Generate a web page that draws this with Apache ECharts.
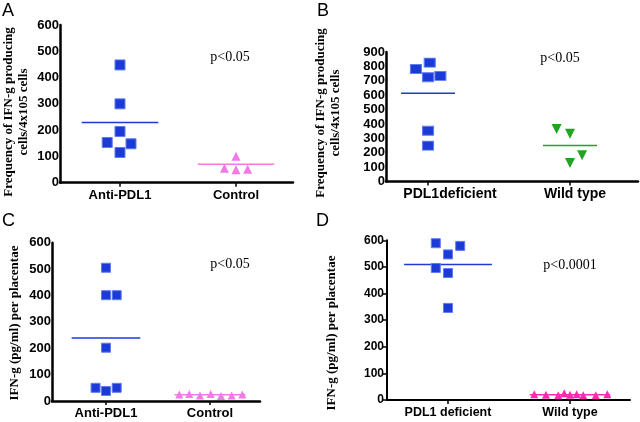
<!DOCTYPE html>
<html><head><meta charset="utf-8">
<script src="https://cdn.jsdelivr.net/npm/echarts@6/dist/echarts.min.js"></script>
<style>html,body{margin:0;padding:0;background:#fff}#c{width:640px;height:422px}</style>
</head><body><div id="c"></div>
<script>
// ---------- DATA ----------
// Panel A
const aCategories = ['Anti-PDL1', 'Control'];
const aGroup1Values = [448, 300, 195, 153, 148, 115];
const aGroup1Jitter = [0, 0, 0, -0.11, 0.095, 0];
const aGroup2Values = [101, 55, 49, 51];
const aGroup2Jitter = [0, -0.1, 0, 0.1];
const aMeans = [229, 70];
const aPText = 'p<0.05';
const aYTitle = 'Frequency of IFN-g producing\ncells/4x105 cells';
// Panel B
const bCategories = ['PDL1deficient', 'Wild type'];
const bGroup1Values = [826, 782, 725, 734, 353, 249];
const bGroup1Jitter = [0.012, -0.085, 0, 0.087, 0, 0];
const bGroup2Values = [365, 332, 182, 129];
const bGroup2Jitter = [-0.094, 0, 0.085, 0];
const bMeans = [614, 251];
const bPText = 'p<0.05';
const bYTitle = 'Frequency of IFN-g producing\ncells/4x105 cells';
// Panel C
const cCategories = ['Anti-PDL1', 'Control'];
const cGroup1Values = [505, 401, 401, 202, 50, 38, 50];
const cGroup1Jitter = [0, 0, 0.103, 0, -0.1, 0, 0.103];
const cGroup2Values = [25, 27, 21, 27, 19, 21, 25];
const cGroup2Jitter = [-0.295, -0.199, -0.096, 0.007, 0.106, 0.209, 0.311];
const cMeans = [239, 24];
const cPText = 'p<0.05';
const cYTitle = 'IFN-g (pg/ml) per placentae';
// Panel D
const dCategories = ['PDL1 deficient', 'Wild type'];
const dGroup1Values = [589, 579, 547, 496, 477, 346];
const dGroup1Jitter = [-0.1, 0.1, 0, -0.1, 0, 0];
const dGroup2Values = [22, 20, 18, 25, 20, 22, 18, 18, 22];
const dGroup2Jitter = [-0.293, -0.197, -0.096, -0.047, 0, 0.055, 0.109, 0.211, 0.306];
const dMeans = [509, 20];
const dPText = 'p<0.0001';
const dYTitle = 'IFN-g (pg/ml) per placentae';

// ---------- LAYOUT / STYLE ----------
const SANS = '"Liberation Sans", Arial, sans-serif';
const SERIF = '"Liberation Serif", "Times New Roman", serif';
const BLUE = '#1c3bd6', BLUE_EDGE = '#5f7cf0';

const panels = [
  { letter: 'A', cats: aCategories, g1: aGroup1Values, j1: aGroup1Jitter, g2: aGroup2Values, j2: aGroup2Jitter, means: aMeans,
    grid: { left: 60, top: 25, width: 233, height: 157.7 }, xMin: 0.483, xMax: 2.491, yMax: 600,
    labelPos: [1, 2], catFont: 13, tickFont: 13, yTicks: false, axisW: 2.5, meanHalf: [0.33, 0.33],
    c2: '#f07ae6', sym2: 'triangle', rot2: 0, size1: 10, size2: 9,
    letterPos: [2, 2], pText: aPText, pPos: [230, 57], yTitle: aYTitle, yTitlePos: [16, 112] },
  { letter: 'B', cats: bCategories, g1: bGroup1Values, j1: bGroup1Jitter, g2: bGroup2Values, j2: bGroup2Jitter, means: bMeans,
    grid: { left: 386, top: 52, width: 252, height: 129.5 }, xMin: 0.704, xMax: 2.479, yMax: 900,
    labelPos: [1.155, 2.035], catFont: 14, tickFont: 13, yTicks: false, axisW: 2.5, meanHalf: [0.19, 0.19],
    c2: '#22a322', sym2: 'triangle', rot2: 180, size1: [11, 9], size2: 10,
    letterPos: [317, 2], pText: bPText, pPos: [560, 58], yTitle: bYTitle, yTitlePos: [328, 113] },
  { letter: 'C', cats: cCategories, g1: cGroup1Values, j1: cGroup1Jitter, g2: cGroup2Values, j2: cGroup2Jitter, means: cMeans,
    grid: { left: 52, top: 242.7, width: 208, height: 158.3 }, xMin: 0.481, xMax: 2.481, yMax: 600,
    labelPos: [1, 2], catFont: 13, tickFont: 13, yTicks: false, axisW: 2.5, meanHalf: [0.33, 0.34],
    c2: '#f07ae6', sym2: 'triangle', rot2: 0, size1: 9, size2: 8,
    letterPos: [2, 212], pText: cPText, pPos: [230, 264], yTitle: cYTitle, yTitlePos: [15, 323] },
  { letter: 'D', cats: dCategories, g1: dGroup1Values, j1: dGroup1Jitter, g2: dGroup2Values, j2: dGroup2Jitter, means: dMeans,
    grid: { left: 387, top: 240.3, width: 243, height: 159.7 }, xMin: 0.5, xMax: 2.492, yMax: 600,
    labelPos: [1, 2], catFont: 12.5, tickFont: 12, yTicks: true, axisW: 2, meanHalf: [0.36, 0.33],
    c2: '#ff2ab2', sym2: 'triangle', rot2: 0, size1: 9, size2: 8,
    letterPos: [316, 212], pText: dPText, pPos: [570, 265], yTitle: dYTitle, yTitlePos: [332, 333] }
];

const grid = [], xAxis = [], yAxis = [], series = [], graphic = [];
panels.forEach((p, i) => {
  grid.push(Object.assign({ containLabel: false }, p.grid));
  xAxis.push({
    type: 'value', gridIndex: i, min: p.xMin, max: p.xMax,
    axisLine: { show: true, onZero: false, lineStyle: { color: '#000', width: p.axisW } },
    axisTick: { show: true, customValues: [1, 2], length: 4, lineStyle: { color: '#000', width: 1.5 } },
    axisLabel: { customValues: p.labelPos, margin: 6, color: '#000', fontFamily: SANS, fontWeight: 'bold', fontSize: p.catFont,
      formatter: v => p.cats[Math.round(v) - 1] },
    splitLine: { show: false }
  });
  yAxis.push({
    type: 'value', gridIndex: i, min: 0, max: p.yMax, interval: 100,
    axisLine: { show: true, lineStyle: { color: '#000', width: p.axisW } },
    axisTick: { show: p.yTicks, length: 4, lineStyle: { color: '#000', width: 1.5 } },
    axisLabel: { margin: p.yTicks ? 3 : 1, color: '#000', fontFamily: SANS, fontWeight: 'bold', fontSize: p.tickFont },
    splitLine: { show: false }
  });
  // mean lines
  [p.means[0], p.means[1]].forEach((m, k) => {
    const g = k + 1;
    series.push({
      type: 'line', xAxisIndex: i, yAxisIndex: i, symbol: 'none', silent: true, z: 1,
      lineStyle: { color: k === 0 ? BLUE : p.c2, width: 1.5 },
      data: [[g - p.meanHalf[k], m], [g + p.meanHalf[k], m]]
    });
  });
  series.push({
    type: 'scatter', xAxisIndex: i, yAxisIndex: i, symbol: 'rect', symbolSize: p.size1, z: 3,
    itemStyle: { color: BLUE, borderColor: BLUE_EDGE, borderWidth: 1, opacity: 1 },
    data: p.g1.map((v, k) => [1 + p.j1[k], v])
  });
  series.push({
    type: 'scatter', xAxisIndex: i, yAxisIndex: i, symbol: p.sym2, symbolRotate: p.rot2, symbolSize: p.size2, z: 3,
    itemStyle: { color: p.c2, opacity: 1 },
    data: p.g2.map((v, k) => [2 + p.j2[k], v])
  });
  graphic.push({ type: 'text', left: p.letterPos[0], top: p.letterPos[1],
    style: { text: p.letter, font: '18px ' + SANS, fill: '#000' } });
  graphic.push({ type: 'text', x: p.pPos[0], y: p.pPos[1],
    style: { text: p.pText, font: '14px ' + SERIF, fill: '#000', textAlign: 'center', textVerticalAlign: 'middle' } });
  graphic.push({ type: 'text', x: p.yTitlePos[0], y: p.yTitlePos[1], rotation: Math.PI / 2,
    style: { text: p.yTitle, font: 'bold 13px ' + SERIF, lineHeight: 15, fill: '#000', textAlign: 'center', textVerticalAlign: 'middle' } });
});

const chart = echarts.init(document.getElementById('c'), null, { renderer: 'canvas' });
chart.setOption({ backgroundColor: '#fff', animation: false, grid, xAxis, yAxis, series, graphic });
</script>
</body></html>
